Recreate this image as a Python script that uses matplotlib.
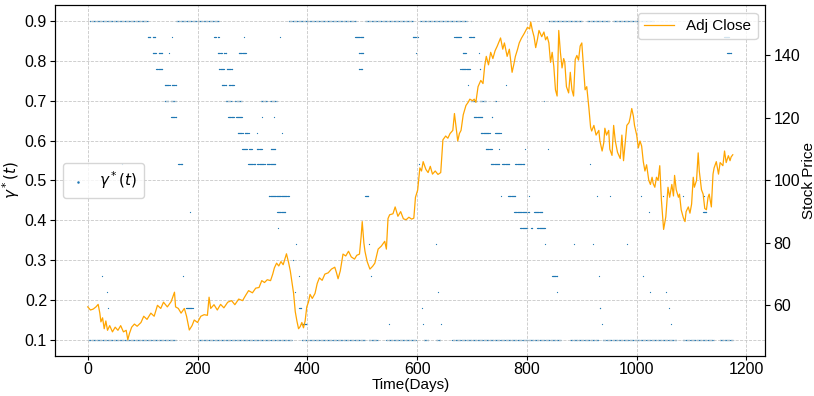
import matplotlib
matplotlib.use("Agg")
import matplotlib.pyplot as plt
import numpy as np

plt.rcParams['font.family'] = ['Liberation Sans', 'DejaVu Sans']
plt.rcParams['font.size'] = 11
plt.rcParams['mathtext.fontset'] = 'dejavusans'

# Adj Close price (day, price)
price_days = [0, 5, 10, 15, 19, 22, 24, 27, 30, 33, 36, 40, 45, 50, 55, 60, 65, 70, 73, 76,
              80, 85, 90, 97, 102, 108, 115, 121, 127, 133, 138, 145, 152, 158, 160, 165, 170, 176, 180, 185,
              190, 194, 200, 206, 212, 218, 221, 224, 230, 236, 242, 248, 255, 262, 268, 275, 282, 288, 293, 300,
              306, 312, 317, 322, 327, 333, 337, 340, 344, 348, 352, 356, 362, 366, 369, 372, 375, 378, 381, 384,
              387, 390, 393, 396, 399, 402, 405, 409, 414, 418, 422, 427, 432, 438, 444, 450, 453, 456, 460, 465,
              470, 475, 480, 486, 490, 495, 498, 500, 503, 505, 509, 514, 519, 523, 529, 535, 541, 544, 547, 550,
              556, 560, 565, 570, 575, 580, 585, 590, 594, 597, 601, 605, 608, 611, 616, 620, 624, 628, 633, 638,
              643, 647, 652, 656, 660, 665, 668, 671, 674, 677, 680, 684, 689, 693, 696, 701, 704, 707, 711, 716,
              720, 723, 726, 730, 734, 738, 742, 746, 752, 756, 759, 764, 768, 773, 776, 779, 783, 786, 790, 795,
              801, 805, 807, 810, 813, 816, 819, 822, 827, 831, 834, 837, 840, 843, 846, 849, 852, 855, 858, 861,
              864, 867, 869, 872, 876, 879, 882, 885, 888, 891, 894, 897, 900, 903, 906, 909, 913, 916, 918, 922,
              926, 931, 933, 937, 940, 942, 945, 949, 951, 955, 958, 961, 965, 970, 973, 976, 979, 982, 986, 988,
              991, 994, 996, 1000, 1003, 1006, 1009, 1012, 1015, 1018, 1022, 1025, 1028, 1030, 1033, 1036, 1039, 1042, 1045, 1049,
              1053, 1057, 1060, 1064, 1067, 1069, 1072, 1076, 1078, 1081, 1085, 1088, 1090, 1094, 1097, 1100, 1103, 1105, 1109, 1112,
              1114, 1118, 1121, 1124, 1127, 1130, 1132, 1136, 1139, 1141, 1145, 1149, 1152, 1157, 1160, 1163, 1167, 1170, 1172, 1175]
price_vals = [59.5, 58.5, 58.8, 59.5, 60.3, 57.5, 54.7, 56, 52.5, 55, 52, 53.5, 51.5, 53, 52, 53.5, 51.5, 52, 49, 51,
              53, 54, 53.3, 54.5, 56.5, 55.5, 57.5, 56.5, 60, 59, 61, 59.5, 61.2, 64.2, 59.5, 59, 57.5, 59, 56.5, 52.1,
              53.5, 55.3, 54.5, 56.5, 57, 56.8, 62.6, 59, 60.2, 58.5, 60.3, 59.2, 61, 61.5, 60.2, 62, 61.5, 63.3, 64.7, 64,
              65.5, 65.7, 67.9, 67.3, 68.2, 67.9, 70, 72, 73.5, 72.6, 74, 73, 76.5, 73.6, 71, 67.3, 63.8, 58, 55, 52.5,
              53.2, 54.5, 52.8, 55, 59.5, 61, 63.5, 62.2, 63.8, 67, 68.8, 68, 70, 70.4, 71.6, 72.2, 70.5, 68.5, 71, 76.4,
              75.8, 77.3, 75.5, 74.8, 76, 76.4, 82, 86.8, 80, 77.3, 74, 71.6, 72.5, 73.5, 78, 79, 80.5, 78, 87.8, 89,
              89.3, 91.5, 88.5, 90, 87.7, 87.4, 88.2, 87.6, 87.9, 94.6, 96.9, 104, 103, 106, 103.5, 102.5, 104.5, 102, 103, 101.9,
              102.5, 113, 114.2, 113.5, 115, 116, 121.4, 117, 112.6, 115, 116, 121, 124, 125, 126, 125.5, 126, 125, 130, 132,
              131, 136.5, 139.7, 137, 141, 139, 141.5, 143, 145.6, 142, 144, 139.7, 142, 134.6, 137, 139.7, 142, 144, 145.5, 147,
              149, 148.5, 150.7, 148, 146, 142.5, 145, 148, 146, 147.5, 145, 146, 144, 137.8, 141, 136.5, 129, 127, 148, 141,
              136, 139, 137.8, 130, 128, 134.6, 129, 127, 138.7, 140, 138.5, 143, 144, 136.5, 129, 130, 123, 117, 115.8, 117.6,
              114.5, 116, 112.6, 109.4, 112, 116.7, 114.5, 116, 110, 108, 117.6, 112.6, 109, 107, 114.5, 106.3, 112, 117.6, 118.5, 120,
              123, 120.5, 117.6, 114.5, 110.4, 112.6, 111, 106, 103, 105, 100, 98.7, 101, 99, 97.8, 101, 100, 104.7, 93.7, 84.3,
              88.3, 97.8, 94.6, 98.7, 95, 101.6, 97, 94.6, 95.6, 90.6, 88, 86.8, 90, 91.5, 89.5, 92.4, 101, 97.8, 100, 108.8,
              103, 97, 95.6, 91, 90.6, 94.6, 95.6, 91.5, 102, 104, 106, 102, 105.7, 104.7, 109.4, 105.7, 107.9, 106.3, 107.5, 108.2]

# gamma*(t): runs of days (start, end) sitting at the same level
gamma_low_runs = [(0, 160), (186, 186), (200, 372), (390, 505), (512, 528), (544, 598), (612, 620),
                  (635, 642), (664, 862), (879, 930), (938, 1072), (1084, 1140), (1151, 1175)]
gamma_high_runs = [(4, 109), (161, 239), (366, 488), (505, 592), (605, 690), (698, 698),
                   (840, 900), (910, 950), (957, 1031)]
gamma_mid_runs = [
    (109, 114, 0.86), (118, 123, 0.86), (154, 154, 0.86), (230, 233, 0.86), (237, 239, 0.86),
    (284, 284, 0.86), (351, 351, 0.86),
    (118, 124, 0.82), (129, 136, 0.82), (148, 148, 0.82), (237, 244, 0.82), (248, 252, 0.82), (275, 288, 0.82),
    (125, 136, 0.78), (239, 248, 0.78), (253, 263, 0.78),
    (140, 149, 0.74), (153, 161, 0.74), (244, 252, 0.74), (257, 266, 0.74),
    (140, 147, 0.70), (151, 160, 0.70), (251, 262, 0.70), (268, 281, 0.70), (315, 326, 0.70), (332, 344, 0.70),
    (152, 161, 0.66), (256, 266, 0.66), (270, 281, 0.66), (317, 317, 0.66), (340, 340, 0.66),
    (273, 282, 0.62), (286, 293, 0.62), (308, 308, 0.62), (353, 353, 0.62),
    (281, 290, 0.58), (294, 299, 0.58), (308, 317, 0.58), (333, 342, 0.58),
    (63, 63, 0.54), (165, 172, 0.54), (292, 305, 0.54), (309, 322, 0.54), (326, 342, 0.54),
    (330, 366, 0.46), (186, 186, 0.42), (345, 360, 0.42), (346, 346, 0.38),
    (379, 379, 0.34), (374, 374, 0.30),
    (26, 26, 0.26), (174, 174, 0.26), (384, 384, 0.26),
    (35, 35, 0.22), (377, 377, 0.22),
    (37, 37, 0.18), (179, 191, 0.18), (385, 389, 0.18), (389, 399, 0.14),
    (487, 502, 0.86), (592, 601, 0.86), (668, 680, 0.86), (695, 704, 0.86),
    (494, 502, 0.82), (598, 598, 0.82), (683, 689, 0.82), (713, 713, 0.82),
    (494, 500, 0.78), (679, 696, 0.78), (714, 715, 0.78),
    (692, 692, 0.74), (762, 762, 0.74),
    (698, 709, 0.70), (714, 725, 0.70), (742, 743, 0.70), (831, 831, 0.70),
    (703, 719, 0.66), (736, 737, 0.66),
    (716, 732, 0.62), (742, 752, 0.62),
    (725, 736, 0.58), (750, 750, 0.58), (796, 796, 0.58), (839, 839, 0.58),
    (603, 603, 0.54), (734, 750, 0.54), (755, 768, 0.54), (779, 795, 0.54), (915, 915, 0.54),
    (505, 511, 0.46), (752, 752, 0.46), (766, 779, 0.46), (804, 804, 0.46),
    (777, 804, 0.42), (813, 828, 0.42),
    (788, 801, 0.38), (808, 810, 0.38), (819, 833, 0.38),
    (512, 512, 0.34), (634, 634, 0.34), (833, 833, 0.34),
    (516, 516, 0.26), (846, 855, 0.26), (638, 638, 0.22), (855, 855, 0.22),
    (609, 609, 0.18), (549, 549, 0.14), (611, 611, 0.14), (643, 643, 0.14),
    (928, 928, 0.46), (951, 951, 0.46), (1007, 1007, 0.46), (1047, 1047, 0.46),
    (1085, 1085, 0.46), (1123, 1123, 0.46),
    (1022, 1022, 0.42), (1121, 1127, 0.42),
    (885, 885, 0.34), (920, 920, 0.34), (982, 982, 0.34),
    (931, 931, 0.26), (1011, 1011, 0.26), (1025, 1025, 0.22), (1053, 1053, 0.22),
    (933, 934, 0.18), (1058, 1058, 0.18), (936, 936, 0.14), (1062, 1062, 0.14),
    (1159, 1168, 0.86), (1165, 1172, 0.82),
]

runs = [(a, b, 0.1) for a, b in gamma_low_runs] + [(a, b, 0.9) for a, b in gamma_high_runs] + gamma_mid_runs
g_days = []
g_vals = []
for a, b, lv in runs:
    d = np.arange(a, b + 1)
    g_days.extend(d)
    g_vals.extend([lv] * len(d))

fig = plt.figure(figsize=(8.14, 3.96), dpi=100)
ax = fig.add_axes([0.068, 0.102, 0.872, 0.885])
ax.scatter(g_days, g_vals, s=0.8, marker='o', color='#1f77b4', linewidths=0, label=r'$\gamma^*(t)$')
ax.set_xlabel('Time(Days)', labelpad=1, fontsize=11)
ax.set_ylabel(r'$\gamma^*(t)$', labelpad=2, fontsize=11)
ax.set_ylim(0.06, 0.94)
ax.set_yticks([0.1, 0.2, 0.3, 0.4, 0.5, 0.6, 0.7, 0.8, 0.9])
ax.set_xlim(-59, 1234)
ax.tick_params(labelsize=11.5)
ax.tick_params(axis='x', length=3, pad=1.5)
ax.tick_params(axis='y', length=3.5, pad=2.5)
ax.grid(True, linestyle='--', linewidth=0.6, color='#c8c8c8')
ax.legend(loc='center left', markerscale=2, handlelength=1.0, handletextpad=0.9,
          borderpad=0.45, fontsize=11)

ax2 = ax.twinx()
ax2.plot(price_days, price_vals, color='orange', linewidth=0.9, label='Adj Close')
ax2.set_ylabel('Stock Price', labelpad=1, fontsize=11)
ax2.set_ylim(43.9, 156.1)
ax2.set_yticks([60, 80, 100, 120, 140])
ax2.tick_params(labelsize=11.5, length=3.5, pad=2.5)
ax2.legend(loc='upper right', fontsize=11, borderpad=0.4)

fig.savefig('out.png', dpi=100)
